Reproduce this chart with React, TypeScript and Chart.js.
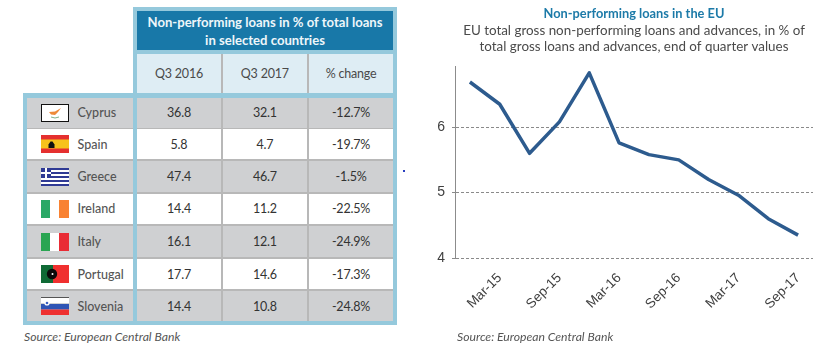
import React, { useEffect, useRef } from "react";
import { Chart, registerables } from "chart.js";

Chart.register(...registerables);

// ---- line chart data ----
const quarters = ["Dec-14", "Mar-15", "Jun-15", "Sep-15", "Dec-15", "Mar-16", "Jun-16", "Sep-16", "Dec-16", "Mar-17", "Jun-17", "Sep-17"];
const nplRatio = [6.69, 6.35, 5.6, 6.08, 6.83, 5.76, 5.58, 5.5, 5.2, 4.96, 4.6, 4.35];
const yTickValues = [4, 5, 6];

// ---- table data ----
const columnHeads = ["Q3 2016", "Q3 2017", "% change"];
const countries = ["Cyprus", "Spain", "Greece", "Ireland", "Italy", "Portugal", "Slovenia"];
const q32016 = ["36.8", "5.8", "47.4", "14.4", "16.1", "17.7", "14.4"];
const q32017 = ["32.1", "4.7", "46.7", "11.2", "12.1", "14.6", "10.8"];
const pctChange = ["-12.7%", "-19.7%", "-1.5%", "-22.5%", "-24.9%", "-17.3%", "-24.8%"];

// ---- layout ----
const rowTops = [98, 129, 161, 194, 226, 259, 291];
const rowBottoms = [127.7, 159, 192, 223.7, 257, 289.3, 321];
const colLefts = [137, 222.7, 309];
const colWidths = [84, 84.3, 84];
const FONT = "Lato, 'Noto Sans', sans-serif";

const box = (l: number, t: number, w: number, h: number, bg: string): React.CSSProperties => ({
  position: "absolute", left: l, top: t, width: w, height: h, background: bg,
});

function Flag({ name }: { name: string }) {
  const p = { width: 28, height: 18, viewBox: "0 0 28 18", style: { display: "block" } };
  switch (name) {
    case "Cyprus":
      return (
        <svg {...p}>
          <rect x="0.5" y="0.5" width="27" height="17" fill="#fff" stroke="#111" />
          <path d="M8 8 L14 7.5 L20 4 L17 8 L14 11 L10 10.5 Z" fill="#ee8a3a" />
          <path d="M10 13 Q14 15 18 13" stroke="#7fb08a" strokeWidth="1" fill="none" />
        </svg>
      );
    case "Spain":
      return (
        <svg {...p}>
          <rect width="28" height="18" fill="#e5302f" />
          <rect y="4.5" width="28" height="9" fill="#f7c21c" />
          <path d="M7.5 13 V9.5 L9.5 6.5 L11.5 6.5 L13.5 9.5 V13 Z" fill="#111" />
        </svg>
      );
    case "Greece":
      return (
        <svg {...p}>
          <rect width="28" height="18" fill="#fff" />
          {[0, 4, 8, 12, 16].map((y) => <rect key={y} y={y} width="28" height="2" fill="#2f3a94" />)}
          <rect width="10" height="10" fill="#2f3a94" />
          <rect x="4" width="2" height="10" fill="#fff" />
          <rect y="4" width="10" height="2" fill="#fff" />
        </svg>
      );
    case "Ireland":
      return (
        <svg {...p}>
          <rect width="9" height="18" fill="#2aa866" />
          <rect x="9" width="10" height="18" fill="#fff" />
          <rect x="18" width="10" height="18" fill="#f98232" />
        </svg>
      );
    case "Italy":
      return (
        <svg {...p}>
          <rect width="9" height="18" fill="#2aa552" />
          <rect x="9" width="10" height="18" fill="#fff" />
          <rect x="18" width="10" height="18" fill="#e92c35" />
        </svg>
      );
    case "Portugal":
      return (
        <svg {...p}>
          <rect width="28" height="18" fill="#f0302f" />
          <rect width="12" height="18" fill="#0f6a35" />
          <circle cx="11" cy="9" r="5.2" fill="#0a0a0a" />
          <circle cx="11.5" cy="9" r="1" fill="#fff" />
        </svg>
      );
    default:
      return (
        <svg {...p}>
          <rect width="28" height="6" fill="#fff" />
          <rect y="0" width="28" height="1" fill="#555" />
          <rect y="7" width="28" height="5.5" fill="#2f55b5" />
          <rect y="12.5" width="28" height="5.5" fill="#ee3030" />
          <circle cx="6" cy="6" r="2.6" fill="#fff" />
          <circle cx="6" cy="6" r="1.3" fill="#3a5fc0" />
        </svg>
      );
  }
}

export default function App() {
  const ref = useRef<HTMLCanvasElement>(null);

  useEffect(() => {
    document.body.style.margin = "0";
    const chart = new Chart(ref.current!, {
      type: "line",
      data: {
        labels: quarters,
        datasets: [{
          data: nplRatio,
          borderColor: "#2d5b8e",
          borderWidth: 3.5,
          pointRadius: 0,
          tension: 0,
          fill: false,
          borderCapStyle: "butt",
          borderJoinStyle: "round",
        }],
      },
      options: {
        animation: false,
        responsive: false,
        layout: { padding: { left: 0, right: 11, top: 0, bottom: 38 } },
        plugins: {
          legend: { display: false },
          tooltip: { enabled: false },
          title: {
            display: true,
            fullSize: false,
            text: "Non-performing loans in the EU",
            color: "#1c7aa8",
            font: { family: FONT, size: 12.8, weight: "bold", lineHeight: 1.2 },
            padding: { top: 6.5, bottom: 0 },
          },
          subtitle: {
            display: true,
            fullSize: false,
            text: [
              "EU total gross non-performing loans and advances, in % of",
              "total gross loans and advances, end of quarter values",
            ],
            color: "#4a4a4a",
            font: { family: FONT, size: 13.4, weight: "normal", lineHeight: 1.25 },
            padding: { top: 0, bottom: 11.6 },
          },
        },
        scales: {
          x: {
            type: "category",
            offset: true,
            afterFit: (s: any) => { s.height = 60; },
            border: { display: false },
            grid: { display: false },
            ticks: {
              autoSkip: false,
              maxRotation: 45,
              minRotation: 45,
              padding: 4,
              color: "#404040",
              font: { family: "'Liberation Sans', Arial, sans-serif", size: 13.5 },
              callback: (_v: any, i: number) => (i % 2 === 1 ? quarters[i] : ""),
            },
          },
          y: {
            min: 4,
            max: 6.92,
            afterFit: (s: any) => { s.width = 35; },
            afterBuildTicks: (s: any) => { s.ticks = yTickValues.map((value) => ({ value })); },
            border: { display: true, color: "#8c8c8c", width: 1, dash: [3, 2] },
            grid: {
              color: "#8a8a8a",
              lineWidth: 1,
              tickLength: 3,
              tickColor: "#8a8a8a",
            },
            ticks: {
              padding: 7,
              color: "#404040",
              font: { family: "'Liberation Sans', Arial, sans-serif", size: 14 },
            },
          },
        },
      } as any,
    });
    return () => chart.destroy();
  }, []);

  const source: React.CSSProperties = {
    position: "absolute", top: 330, fontFamily: FONT, fontStyle: "italic", fontSize: 12.2, color: "#555", lineHeight: "14px", whiteSpace: "nowrap",
  };
  const cell: React.CSSProperties = {
    display: "flex", alignItems: "center", justifyContent: "center", fontFamily: FONT, whiteSpace: "nowrap",
  };

  return (
    <div style={{ position: "relative", width: 824, height: 356, overflow: "hidden", background: "#fff" }}>
      {/* table frames */}
      <div style={box(133, 7, 264, 318, "#95c9dc")} />
      <div style={box(23, 93, 110, 232, "#95c9dc")} />
      {/* title block */}
      <div style={{ ...box(137, 11, 256, 39, "#1878a8"), ...cell, flexDirection: "column", color: "#eef6fa", fontWeight: 700, fontSize: 13.1, lineHeight: "18px" }}>
        <div>Non-performing loans in % of total loans</div>
        <div>in selected countries</div>
      </div>
      {/* column heads */}
      <div style={box(137, 54, 256, 39, "#b8b8b8")} />
      {columnHeads.map((h, i) => (
        <div key={h} style={{ ...box(colLefts[i], 54, colWidths[i], 39, "#deedf4"), ...cell, color: "#4a4a4a", fontSize: 12.5, letterSpacing: "-0.2px" }}>{h}</div>
      ))}
      {/* rows */}
      <div style={box(27, 98, 106, 223, "#b8b8b8")} />
      <div style={box(137, 98, 256, 223, "#b8b8b8")} />
      {countries.map((c, r) => {
        const top = rowTops[r];
        const h = rowBottoms[r] - top;
        const bg = r % 2 === 0 ? "#cfd0d2" : "#ffffff";
        const vals = [q32016[r], q32017[r], pctChange[r]];
        return (
          <React.Fragment key={c}>
            <div style={box(27, top, 106, h, bg)} />
            <div style={{ position: "absolute", left: 41, top: top + Math.round((h - 18) / 2) }}><Flag name={c} /></div>
            <div style={{ ...box(77.5, top, 55, h, "transparent"), ...cell, justifyContent: "flex-start", color: "#555", fontSize: 12.5, fontWeight: 500 }}>{c}</div>
            {vals.map((v, i) => (
              <div key={i} style={{ ...box(colLefts[i], top, colWidths[i], h, bg), ...cell, color: "#333", fontSize: 12.5, letterSpacing: "-0.2px" }}>{v}</div>
            ))}
          </React.Fragment>
        );
      })}
      <div style={{ ...source, left: 24 }}>Source: European Central Bank</div>
      <div style={box(403, 169.5, 2, 2, "#2a3fc0")} />
      {/* chart */}
      <canvas ref={ref} width={404} height={356} style={{ position: "absolute", left: 420, top: 0 }} />
      <div style={{ ...source, left: 457 }}>Source: European Central Bank</div>
    </div>
  );
}
